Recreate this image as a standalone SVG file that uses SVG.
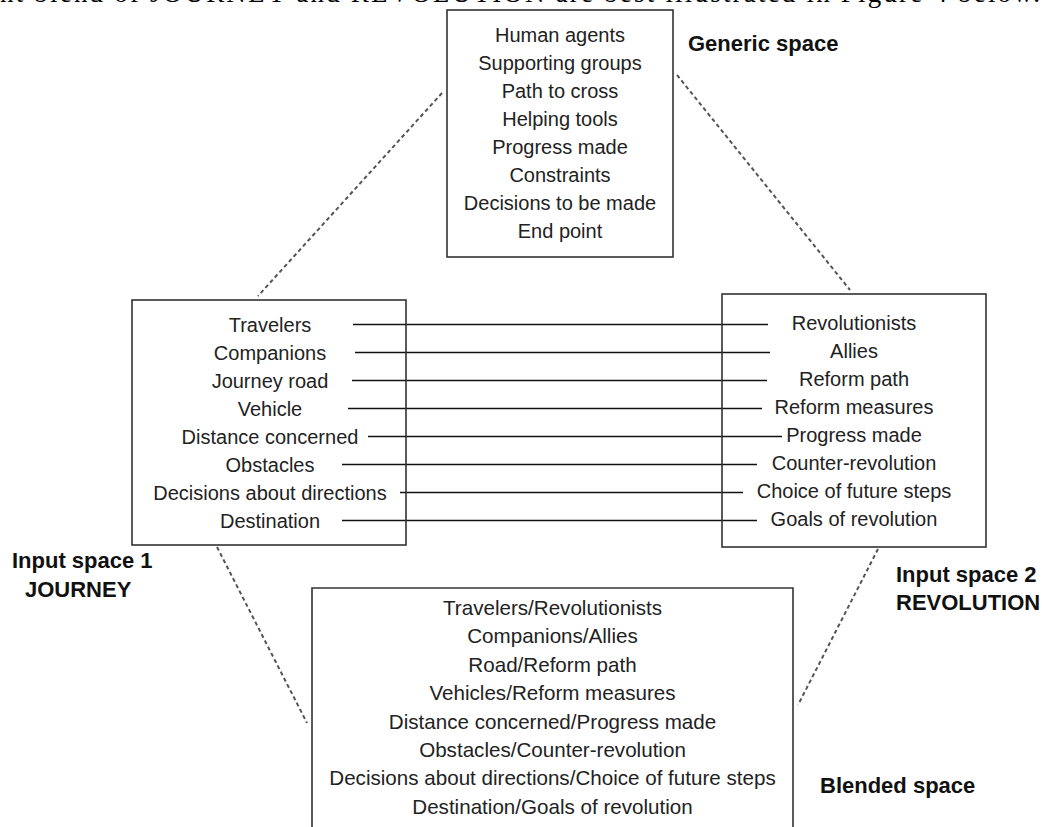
<svg xmlns="http://www.w3.org/2000/svg" width="1042" height="827" viewBox="0 0 1042 827">
<style>
.box{fill:#fff;stroke:#333;stroke-width:1.6}
.t{font-family:"Liberation Sans",Arial,sans-serif;font-size:20px;fill:#222;text-anchor:middle}
.tb{font-family:"Liberation Sans",Arial,sans-serif;font-size:20.6px;fill:#222;text-anchor:middle}
.lbl{font-family:"Liberation Sans",Arial,sans-serif;font-size:22px;font-weight:bold;fill:#111}
.map{stroke:#111;stroke-width:1.4}
.dash{stroke:#555;stroke-width:2;stroke-dasharray:4 3;fill:none}
</style>
<rect width="1042" height="827" fill="#fff"/>
<text x="0" y="2" font-family="'Liberation Serif',serif" font-size="27" fill="#000" textLength="1040" lengthAdjust="spacing">nt blend of JOURNEY and REVOLUTION are best illustrated in Figure 4 below.</text>
<g id="connectors">
<line class="dash" x1="442" y1="93" x2="258" y2="296"/>
<line class="dash" x1="677" y1="75" x2="850" y2="290"/>
<line class="dash" x1="217" y1="547" x2="307" y2="723"/>
<line class="dash" x1="878" y1="549" x2="798" y2="705"/>
<line class="map" x1="353" y1="324.5" x2="768" y2="324.5"/>
<line class="map" x1="355" y1="352.5" x2="770" y2="352.5"/>
<line class="map" x1="352" y1="380.5" x2="767" y2="380.5"/>
<line class="map" x1="348" y1="408.5" x2="762" y2="408.5"/>
<line class="map" x1="368" y1="436.5" x2="782" y2="436.5"/>
<line class="map" x1="342" y1="464.5" x2="757" y2="464.5"/>
<line class="map" x1="400" y1="492.5" x2="743" y2="492.5"/>
<line class="map" x1="342" y1="520.5" x2="757" y2="520.5"/>
</g>
<g id="generic">
<rect class="box" x="447" y="10" width="226" height="247"/>
<text class="t" x="560" y="42">Human agents</text>
<text class="t" x="560" y="70">Supporting groups</text>
<text class="t" x="560" y="98">Path to cross</text>
<text class="t" x="560" y="126">Helping tools</text>
<text class="t" x="560" y="154">Progress made</text>
<text class="t" x="560" y="182">Constraints</text>
<text class="t" x="560" y="210">Decisions to be made</text>
<text class="t" x="560" y="238">End point</text>
<text class="lbl" x="688" y="51">Generic space</text>
</g>
<g id="input1">
<rect class="box" x="132" y="300" width="274" height="245" style="fill:none"/>
<text class="t" x="270" y="332">Travelers</text>
<text class="t" x="270" y="360">Companions</text>
<text class="t" x="270" y="388">Journey road</text>
<text class="t" x="270" y="416">Vehicle</text>
<text class="t" x="270" y="444">Distance concerned</text>
<text class="t" x="270" y="472">Obstacles</text>
<text class="t" x="270" y="500">Decisions about directions</text>
<text class="t" x="270" y="528">Destination</text>
<text class="lbl" x="12" y="568">Input space 1</text>
<text class="lbl" x="25" y="597">JOURNEY</text>
</g>
<g id="input2">
<rect class="box" x="722" y="294" width="264" height="253" style="fill:none"/>
<text class="t" x="854" y="330">Revolutionists</text>
<text class="t" x="854" y="358">Allies</text>
<text class="t" x="854" y="386">Reform path</text>
<text class="t" x="854" y="414">Reform measures</text>
<text class="t" x="854" y="442">Progress made</text>
<text class="t" x="854" y="470">Counter-revolution</text>
<text class="t" x="854" y="498">Choice of future steps</text>
<text class="t" x="854" y="526">Goals of revolution</text>
<text class="lbl" x="896" y="582">Input space 2</text>
<text class="lbl" x="896" y="610">REVOLUTION</text>
</g>
<g id="blended">
<path class="box" d="M312,830 V588 H793 V830"/>
<text class="tb" x="552.5" y="615">Travelers/Revolutionists</text>
<text class="tb" x="552.5" y="643.4">Companions/Allies</text>
<text class="tb" x="552.5" y="671.8">Road/Reform path</text>
<text class="tb" x="552.5" y="700.2">Vehicles/Reform measures</text>
<text class="tb" x="552.5" y="728.6">Distance concerned/Progress made</text>
<text class="tb" x="552.5" y="757">Obstacles/Counter-revolution</text>
<text class="tb" x="552.5" y="785.4">Decisions about directions/Choice of future steps</text>
<text class="tb" x="552.5" y="813.8">Destination/Goals of revolution</text>
<text class="lbl" x="820" y="793">Blended space</text>
</g>
</svg>
